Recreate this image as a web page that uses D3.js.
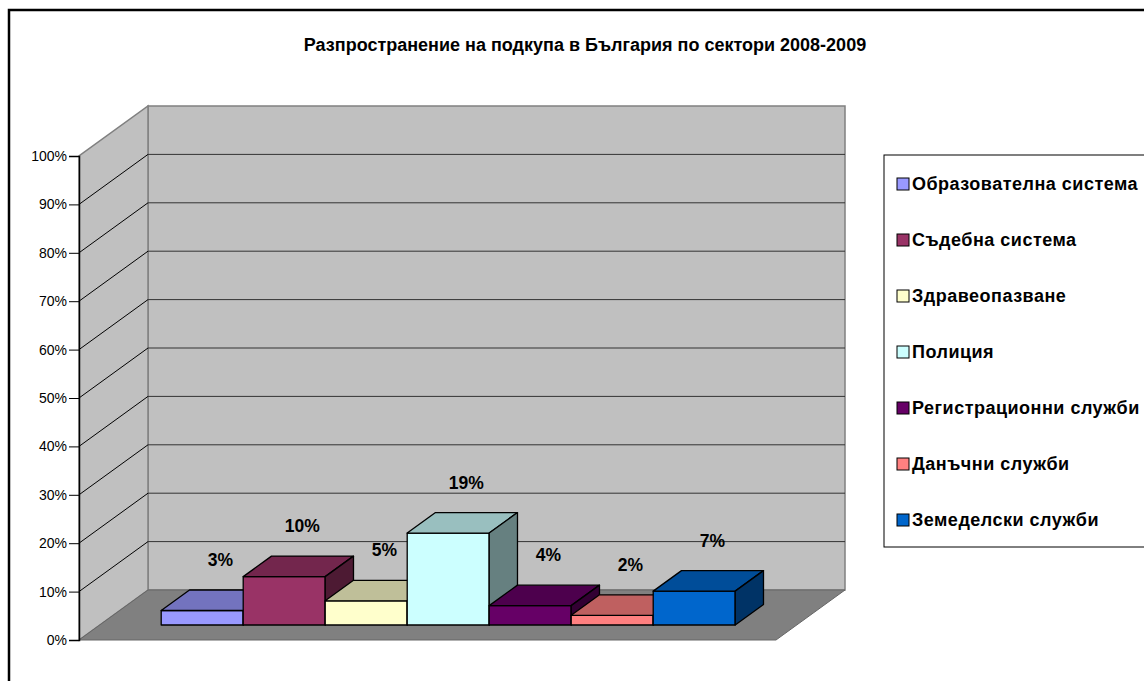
<!DOCTYPE html>
<html>
<head>
<meta charset="utf-8">
<script src="https://cdn.jsdelivr.net/npm/d3@7"></script>
<style>
  body { margin: 0; background: #fff; }
  text { font-family: "Liberation Sans", Arial, Helvetica, sans-serif; }
</style>
</head>
<body>
<svg width="1144" height="681"></svg>
<script>
// data
var categories = ['Образователна система', 'Съдебна система', 'Здравеопазване', 'Полиция',
    'Регистрационни служби', 'Данъчни служби', 'Земеделски служби']
var values = [3, 10, 5, 19, 4, 2, 7]
var yTicks = [0, 10, 20, 30, 40, 50, 60, 70, 80, 90, 100]
var title = 'Разпространение на подкупа в България по сектори 2008-2009'

var colors = ['#9999ff', '#993366', '#ffffcc', '#ccffff', '#660066', '#ff8080', '#0066cc']

var svg = d3.select('svg')

// plot geometry: front-left floor corner, floor width, depth offset
var x0 = 79, W = 697, DX = 69, DY = 50
var zFront = 0.3, zBack = 0.71

var yScale = d3.scaleLinear()
    .domain([0, 100])
    .range([640, 156])
var xScale = d3.scaleBand()
    .domain(categories)
    .range([x0, x0 + W])
    .paddingInner(0)
    .paddingOuter(0.75)

function proj(x, v, z) {
    return [x + z * DX, yScale(v) - z * DY]
}
function poly(pts) {
    return 'M' + pts.map(p => p[0] + ',' + p[1]).join('L') + 'Z'
}
function shade(c, k) {
    var r = d3.rgb(c)
    return d3.rgb(r.r * k, r.g * k, r.b * k).toString()
}

// outer frame
svg.append('rect')
    .attr('x', 9).attr('y', 10)
    .attr('width', 1200).attr('height', 700)
    .style('fill', 'none')
    .style('stroke', '#000')
    .style('stroke-width', 2.5)

// Title Text
svg.append('text')
    .attr('x', 585)
    .attr('y', 51)
    .attr('text-anchor', 'middle')
    .style('font-size', '18px')
    .style('font-weight', 'bold')
    .text(title)

// walls and floor
svg.append('path')
    .attr('d', poly([proj(x0, 0, 1), proj(x0 + W, 0, 1), proj(x0 + W, 100, 1), proj(x0, 100, 1)]))
    .style('fill', '#c0c0c0').style('stroke', '#808080').style('stroke-width', 1.5)
svg.append('path')
    .attr('d', poly([proj(x0, 0, 0), proj(x0, 0, 1), proj(x0, 100, 1), proj(x0, 100, 0)]))
    .style('fill', '#c0c0c0').style('stroke', '#808080').style('stroke-width', 1.5)
svg.append('path')
    .attr('d', poly([proj(x0, 0, 0), proj(x0 + W, 0, 0), proj(x0 + W, 0, 1), proj(x0, 0, 1)]))
    .style('fill', '#808080').style('stroke', '#666').style('stroke-width', 1)

// gridlines
var grid = yTicks.filter(t => t > 0 && t < 100)
svg.append('g').selectAll('line.back')
    .data(grid)
    .enter()
    .append('line')
    .attr('x1', d => proj(x0, d, 1)[0])
    .attr('y1', d => proj(x0, d, 1)[1])
    .attr('x2', d => proj(x0 + W, d, 1)[0])
    .attr('y2', d => proj(x0 + W, d, 1)[1])
    .style('stroke', '#333')
    .style('stroke-width', 1)
svg.append('g').selectAll('line.side')
    .data(grid)
    .enter()
    .append('line')
    .attr('x1', d => proj(x0, d, 0)[0])
    .attr('y1', d => proj(x0, d, 0)[1])
    .attr('x2', d => proj(x0, d, 1)[0])
    .attr('y2', d => proj(x0, d, 1)[1])
    .style('stroke', '#000')
    .style('stroke-width', 1)

// y axis
var yAxis = svg.append('g')
    .attr('transform', 'translate(' + x0 + ',0)')
    .call(d3.axisLeft(yScale).tickValues(yTicks).tickSize(10).tickPadding(2).tickFormat(d => d + '%'))
yAxis.select('.domain').style('stroke', '#000').style('stroke-width', 1.5)
yAxis.selectAll('.tick line').style('stroke', '#000')
yAxis.selectAll('.tick text')
    .style('font-family', '"Liberation Sans", Arial, sans-serif')
    .style('font-size', '14px')
    .style('fill', '#000')

// bars, left to right so later faces cover earlier sides
var bars = svg.append('g')
categories.forEach((c, i) => {
    var x = xScale(c), w = xScale.bandwidth(), v = values[i]
    var g = bars.append('g')
    g.append('path')
        .attr('d', poly([proj(x, 0, zFront), proj(x + w, 0, zFront), proj(x + w, v, zFront), proj(x, v, zFront)]))
        .style('fill', colors[i])
    g.append('path')
        .attr('d', poly([proj(x, v, zFront), proj(x + w, v, zFront), proj(x + w, v, zBack), proj(x, v, zBack)]))
        .style('fill', shade(colors[i], 0.75))
    g.append('path')
        .attr('d', poly([proj(x + w, 0, zFront), proj(x + w, 0, zBack), proj(x + w, v, zBack), proj(x + w, v, zFront)]))
        .style('fill', shade(colors[i], 0.5))
    g.selectAll('path')
        .style('stroke', '#000')
        .style('stroke-width', 1.3)
        .style('stroke-linejoin', 'round')
})

// value labels
svg.append('g').selectAll('text')
    .data(values)
    .enter()
    .append('text')
    .attr('x', (d, i) => proj(xScale(categories[i]) + xScale.bandwidth() / 2, d, (zFront + zBack) / 2)[0] + 4)
    .attr('y', d => proj(0, d, zBack)[1] - 30)
    .attr('dy', '0.35em')
    .attr('text-anchor', 'middle')
    .style('font-size', '17.5px')
    .style('font-weight', 'bold')
    .text(d => d + '%')

// legend
svg.append('rect')
    .attr('x', 884).attr('y', 155)
    .attr('width', 300).attr('height', 392)
    .style('fill', '#fff')
    .style('stroke', '#000')
    .style('stroke-width', 1)
var legend = svg.append('g').selectAll('g')
    .data(categories)
    .enter()
    .append('g')
    .attr('transform', (d, i) => 'translate(897,' + (184 + i * 56) + ')')
legend.append('rect')
    .attr('x', 0).attr('y', -6)
    .attr('width', 12).attr('height', 12)
    .style('fill', (d, i) => colors[i])
    .style('stroke', '#000')
    .style('stroke-width', 1)
legend.append('text')
    .attr('x', 15)
    .attr('dy', '0.35em')
    .style('font-size', '18px')
    .style('font-weight', 'bold')
    .style('letter-spacing', '0.5px')
    .text(d => d)
</script>
</body>
</html>
